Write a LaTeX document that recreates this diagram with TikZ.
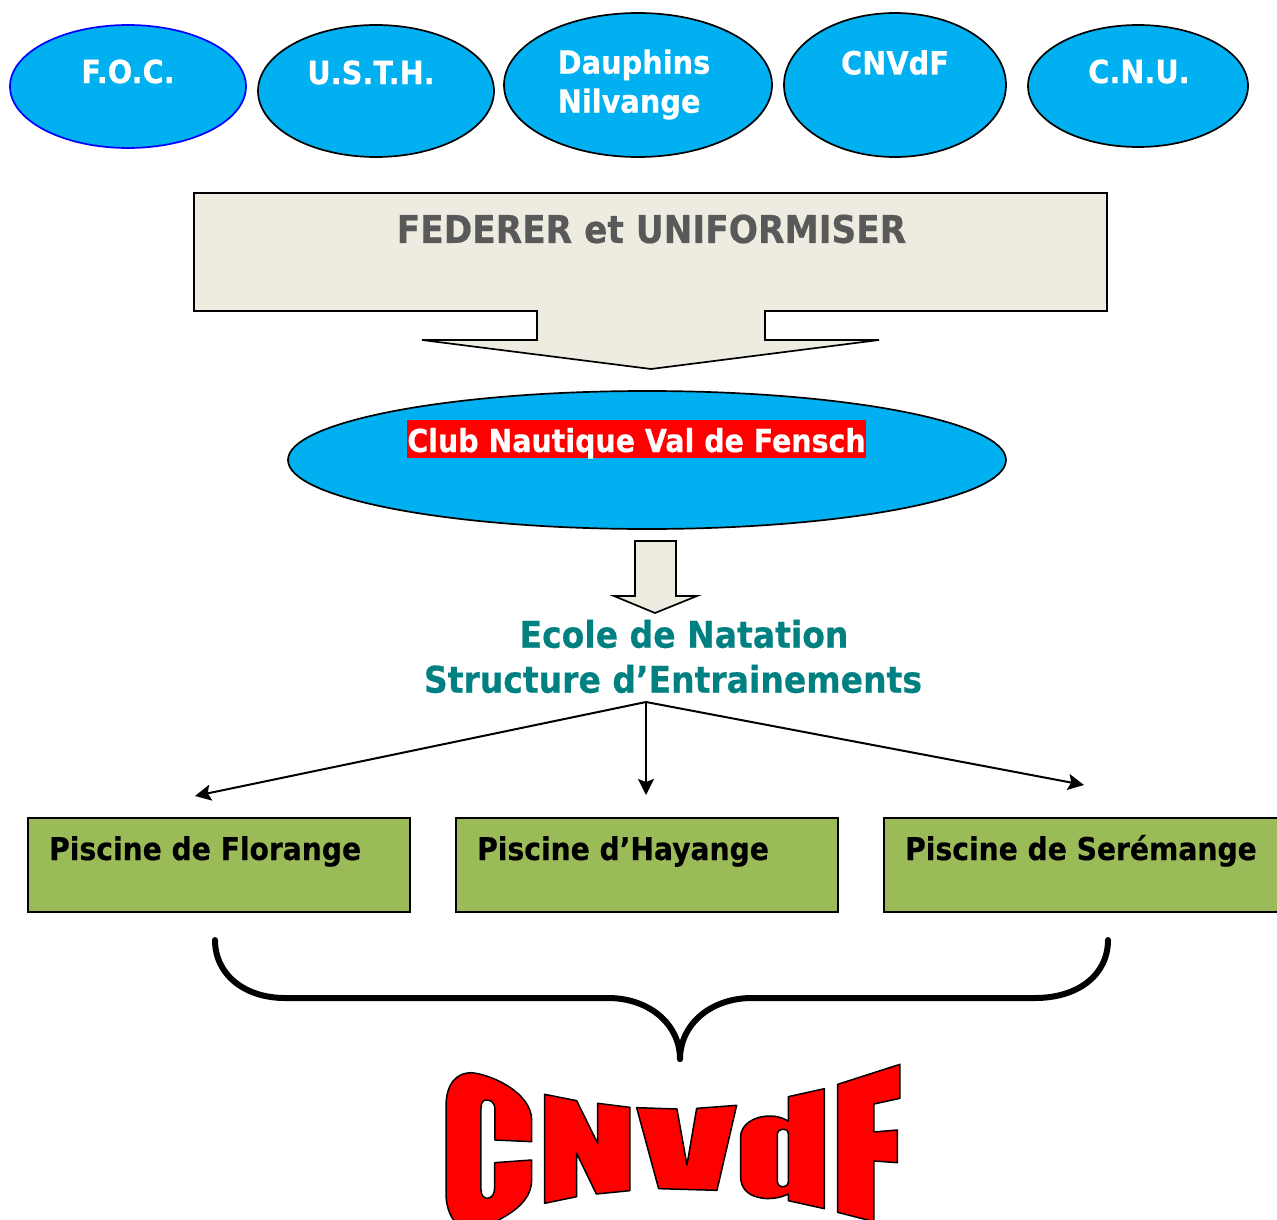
\documentclass[tikz,border=0pt]{standalone}
\usepackage{fontspec}
\setmainfont{DejaVu Sans}[FakeStretch=0.9,BoldFeatures={FakeBold=0.5}]
\usetikzlibrary{shapes.geometric,arrows.meta}
\definecolor{cyanfill}{HTML}{00B0F0}
\definecolor{paper}{HTML}{EEECE1}
\definecolor{grn}{HTML}{9BBB59}
\definecolor{teal2}{HTML}{008080}
\definecolor{gry}{HTML}{595959}
\tikzset{
  x=1pt,y=-1pt,
  oval/.style={ellipse,draw=black,line width=1.7pt,fill=cyanfill,inner sep=0pt},
  ovaltxt/.style={font=\bfseries\fontsize{32}{39}\selectfont,text=white,inner sep=0pt,align=left},
  pool/.style={rectangle,draw=black,line width=1.7pt,fill=grn,inner sep=0pt,minimum width=382pt,minimum height=94pt},
  pooltxt/.style={font=\bfseries\fontsize{31.3}{37}\selectfont,text=black,inner sep=0pt,anchor=base west},
  blockarrow/.style={draw=black,line width=1.7pt,fill=paper,line join=miter},
  link/.style={draw=black,line width=2pt,-{Stealth[length=16pt,width=16pt,inset=3pt]}},
  wordart/.style={draw=black,line width=1.5pt,fill=red,even odd rule,line join=round},
}
\begin{document}
\begin{tikzpicture}
\useasboundingbox (0,0) rectangle (1277,1220);
\clip (0,0) rectangle (1277,1220);
% top ovals
\node[oval,draw=blue,minimum width=236pt,minimum height=123pt] (foc) at (128,86.5) {};
\node[oval,minimum width=236pt,minimum height=132pt] (usth) at (376,91) {};
\node[oval,minimum width=268pt,minimum height=144pt] (dau) at (638,85) {};
\node[oval,minimum width=222pt,minimum height=144pt] (cnv) at (895,85) {};
\node[oval,minimum width=220pt,minimum height=122pt] (cnu) at (1138,86) {};
\node[ovaltxt] (tfoc) at (128,71.5) {F.O.C.};
\node[ovaltxt] (tusth) at (371,72.5) {U.S.T.H.};
\node[ovaltxt] (tdau) at (634,84.5) {Dauphins\\Nilvange};
\node[ovaltxt] (tcnv) at (895,62.5) {CNVdF};
\node[ovaltxt] (tcnu) at (1139,71.5) {C.N.U.};
% big arrow
\draw[blockarrow] (194,193) -- (1107,193) -- (1107,311) -- (765,311) -- (765,340) -- (879,340) -- (651,369) -- (422,340) -- (537,340) -- (537,311) -- (194,311) -- cycle;
\node[font=\bfseries\fontsize{38.2}{44}\selectfont,text=gry,inner sep=0pt] (fed) at (651.5,229) {FEDERER et UNIFORMISER};
% club
\node[oval,minimum width=718pt,minimum height=138pt] (club) at (647,460) {};
\node[fill=red,text=white,font=\bfseries\fontsize{31.6}{37}\selectfont,inner sep=0pt,minimum width=457pt,text height=32pt,text depth=6pt] (tclub) at (636.5,439) {Club Nautique Val de Fensch};
% small arrow
\draw[blockarrow] (635,541) -- (676,541) -- (676,596) -- (697,596) -- (655,613) -- (614,596) -- (635,596) -- cycle;
% school
\node[font=\bfseries\fontsize{36.7}{45}\selectfont,text=teal2,inner sep=0pt] (ecole) at (684,634) {Ecole de Natation};
\node[font=\bfseries\fontsize{36.7}{45}\selectfont,text=teal2,inner sep=0pt] (struct) at (673,679) {Structure d’Entrainements};
% connectors
\coordinate (src) at (646,702);
\coordinate (e1) at (195,796);
\coordinate (e2) at (646,795);
\coordinate (e3) at (1084,785);
\draw[link] (src) -- (e1);
\draw[link] (src) -- (e2);
\draw[link] (src) -- (e3);
% pools
\node[pool] (p1) at (219,865) {};
\node[pool] (p2) at (647,865) {};
\node[pool,minimum width=400pt] (p3) at (1084,865) {};
\node[pooltxt] (t1) at (49,860) {Piscine de Florange};
\node[pooltxt] (t2) at (477,860) {Piscine d’Hayange};
\node[pooltxt] (t3) at (905,860) {Piscine de Serémange};
% brace
\coordinate (bl) at (215,940);
\coordinate (bc) at (680,1059);
\coordinate (br) at (1108,940);
\draw[line width=6pt,line cap=round,line join=round] (bl) .. controls (215,975) and (245,998) .. (285,998) -- (608,998) .. controls (650,998) and (680,1025) .. (bc);
\draw[line width=6pt,line cap=round,line join=round] (br) .. controls (1108,975) and (1078,998) .. (1035,998) -- (752,998) .. controls (710,998) and (680,1025) .. (bc);
% WordArt CNvdF: warped letters drawn as outlines, the word kept as a transparent text layer
\begin{scope}[shift={(420,1050)},x=0.3333pt,y=-0.3333pt]
\draw[wordart] (335,275) -- (225,270) -- (225,180) .. controls (225,155) and (210,150) .. (200,150) .. controls (190,150) and (183,155) .. (183,175) -- (183,420) .. controls (183,440) and (195,445) .. (203,445) .. controls (218,443) and (224,430) .. (224,410) -- (224,338) -- (335,330) -- (335,390) .. controls (335,470) and (240,510) .. (170,540) .. controls (100,545) and (78,480) .. (78,430) -- (78,170) .. controls (78,100) and (110,68) .. (155,68) .. controls (220,75) and (335,130) .. (335,210) -- cycle;
\draw[wordart] (374,133) -- (470,152) -- (533,280) -- (533,160) -- (630,172) -- (630,422) -- (529,432) -- (470,310) -- (470,440) -- (374,460) -- cycle;
\draw[wordart] (650,173) -- (771,177) -- (801,345) -- (830,175) -- (950,166) -- (891,421) -- (716,416) -- cycle;
\draw[wordart] (1105,140) -- (1213,116) -- (1213,476) -- (1105,452) -- (1105,432) .. controls (1080,445) and (1050,447) .. (1030,445) .. controls (990,440) and (962,420) .. (962,380) -- (962,260) .. controls (962,225) and (1000,198) .. (1050,198) .. controls (1075,198) and (1090,205) .. (1105,213) -- cycle (1072,255) .. controls (1072,243) and (1080,238) .. (1090,238) .. controls (1100,238) and (1105,243) .. (1105,250) -- (1105,395) .. controls (1105,405) and (1098,410) .. (1088,410) .. controls (1078,410) and (1072,403) .. (1072,392) -- cycle;
\draw[wordart] (1253,103) -- (1440,43) -- (1440,145) -- (1362,162) -- (1362,246) -- (1432,240) -- (1432,338) -- (1362,333) -- (1362,515) -- (1253,487) -- cycle;
\end{scope}
\node[text opacity=0,inner sep=0pt,font=\bfseries\fontsize{90}{90}\selectfont] (logo) at (672,1145) {CNvdF};
\end{tikzpicture}
\end{document}
